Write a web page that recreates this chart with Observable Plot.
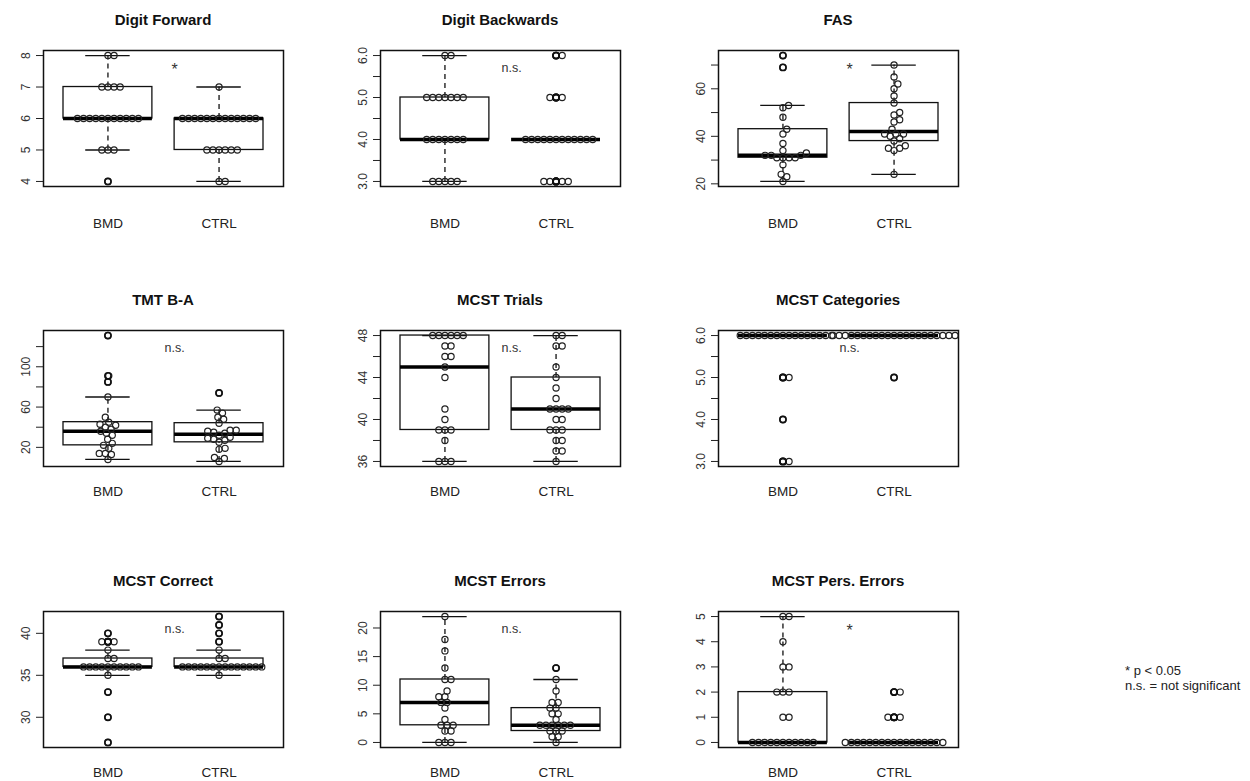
<!DOCTYPE html>
<html>
<head>
<meta charset="utf-8">
<script src="https://cdn.jsdelivr.net/npm/d3@7"></script>
<script src="https://cdn.jsdelivr.net/npm/@observablehq/plot@0.6"></script>
<style>
  html, body { margin: 0; padding: 0; background: #fff; }
  #page { position: relative; width: 1250px; height: 781px; font-family: "Liberation Sans", Arial, Helvetica, sans-serif; color: #111; }
  .panel { position: absolute; }
  .title { position: absolute; transform: translate(-50%, -50%); font-weight: bold; font-size: 15px; white-space: nowrap; color: #111; }
  .note { position: absolute; left: 1125px; top: 663px; font-size: 13px; line-height: 15px; color: #222; white-space: nowrap; }
</style>
</head>
<body>
<div id="page">
  <div class="note">* p &lt; 0.05<br>n.s. = not significant</div>
</div>
<script>
// Groups compared in every panel
const groups = ["BMD", "CTRL"];

// Panel titles, in reading order
const titles = ["Digit Forward", "Digit Backwards", "FAS", "TMT B-A", "MCST Trials",
  "MCST Categories", "MCST Correct", "MCST Errors", "MCST Pers. Errors"];

// Significance of the group difference in each panel
const significance = ["*", "n.s.", "*", "n.s.", "n.s.", "n.s.", "n.s.", "n.s.", "*"];

// Individual scores, one array per test and group
const digitForwardBMD = [8, 8, 7, 7, 7, 7, 6, 6, 6, 6, 6, 6, 6, 6, 6, 6, 6, 5, 5, 5, 4];
const digitForwardCTRL = [7, 6, 6, 6, 6, 6, 6, 6, 6, 6, 6, 6, 6, 6, 5, 5, 5, 5, 5, 5, 4, 4];
const digitBackwardsBMD = [6, 6, 5, 5, 5, 5, 5, 5, 5, 4, 4, 4, 4, 4, 4, 4, 3, 3, 3, 3, 3];
const digitBackwardsCTRL = [6, 6, 5, 5, 5, 4, 4, 4, 4, 4, 4, 4, 4, 4, 4, 4, 4, 3, 3, 3, 3, 3];
const fasBMD = [74, 69, 53, 52, 48, 43, 41, 37, 34, 33, 32, 32, 32, 31, 31, 31, 31, 28, 24, 23, 21];
const fasCTRL = [70, 65, 62, 60, 57, 54, 50, 49, 47, 46, 43, 41, 41, 41, 40, 39, 38, 36, 35, 35, 34, 24];
const tmtBMD = [131, 91, 85, 70, 50, 45, 43, 42, 40, 38, 36, 34, 32, 28, 24, 22, 19, 14, 14, 13, 8];
const tmtCTRL = [74, 57, 54, 50, 48, 44, 37, 37, 36, 35, 34, 32, 30, 29, 28, 27, 25, 19, 18, 10, 9, 6];
const trialsBMD = [48, 48, 48, 48, 48, 48, 47, 47, 46, 46, 45, 44, 41, 40, 39, 39, 39, 38, 36, 36, 36];
const trialsCTRL = [48, 48, 47, 47, 45, 44, 43, 42, 41, 41, 41, 41, 40, 40, 39, 39, 39, 38, 38, 37, 37, 36];
const categoriesBMD = [6, 6, 6, 6, 6, 6, 6, 6, 6, 6, 6, 6, 6, 6, 6, 6, 5, 5, 4, 3, 3];
const categoriesCTRL = [6, 6, 6, 6, 6, 6, 6, 6, 6, 6, 6, 6, 6, 6, 6, 6, 6, 6, 6, 6, 6, 5];
const correctBMD = [40, 39, 39, 39, 38, 37, 37, 36, 36, 36, 36, 36, 36, 36, 36, 36, 36, 35, 33, 30, 27];
const correctCTRL = [42, 41, 40, 39, 38, 37, 37, 36, 36, 36, 36, 36, 36, 36, 36, 36, 36, 36, 36, 36, 36, 35];
const errorsBMD = [22, 18, 16, 13, 11, 11, 9, 8, 8, 7, 7, 6, 4, 3, 3, 3, 2, 2, 0, 0, 0];
const errorsCTRL = [13, 11, 9, 7, 7, 6, 6, 5, 5, 4, 3, 3, 3, 3, 3, 3, 2, 2, 2, 1, 1, 0];
const persBMD = [5, 5, 4, 3, 3, 2, 2, 2, 1, 1, 0, 0, 0, 0, 0, 0, 0, 0, 0, 0, 0];
const persCTRL = [2, 2, 1, 1, 1, 0, 0, 0, 0, 0, 0, 0, 0, 0, 0, 0, 0, 0, 0, 0, 0, 0];

// Y-axis ticks and their printed labels (blank = unlabelled tick)
const yTicks = [
  [4, 5, 6, 7, 8],
  [3, 3.5, 4, 4.5, 5, 5.5, 6],
  [20, 30, 40, 50, 60, 70],
  [20, 40, 60, 80, 100, 120],
  [36, 38, 40, 42, 44, 46, 48],
  [3, 3.5, 4, 4.5, 5, 5.5, 6],
  [30, 35, 40],
  [0, 5, 10, 15, 20],
  [0, 1, 2, 3, 4, 5]
];
const yTickLabels = [
  ["4", "5", "6", "7", "8"],
  ["3.0", "", "4.0", "", "5.0", "", "6.0"],
  ["20", "", "40", "", "60", ""],
  ["20", "", "60", "", "100", ""],
  ["36", "", "40", "", "44", "", "48"],
  ["3.0", "", "4.0", "", "5.0", "", "6.0"],
  ["30", "35", "40"],
  ["0", "5", "10", "15", "20"],
  ["0", "1", "2", "3", "4", "5"]
];

const series = [
  [digitForwardBMD, digitForwardCTRL],
  [digitBackwardsBMD, digitBackwardsCTRL],
  [fasBMD, fasCTRL],
  [tmtBMD, tmtCTRL],
  [trialsBMD, trialsCTRL],
  [categoriesBMD, categoriesCTRL],
  [correctBMD, correctCTRL],
  [errorsBMD, errorsCTRL],
  [persBMD, persCTRL]
];

// Panel geometry
const FRAME_W = 240, FRAME_H = 136;
const M = {left: 43, right: 12, top: 50, bottom: 45};
const colLeft = [0, 337, 675];
const rowTop = [0, 280, 561];
const labelPad = [32, 19.5, 19.5];
const xDomain = [0.42, 2.58];           // positions 1 and 2, padded like base R
const pxPerX = FRAME_W / (xDomain[1] - xDomain[0]);
const DOT = 6.1;                         // centre-to-centre spacing of the swarm
const R = 3.1;

// Tukey five-number summary and whisker limits (boxplot.stats, coef 1.5)
function boxStats(values) {
  const x = values.slice().sort((a, b) => a - b);
  const n = x.length;
  const n4 = Math.floor((n + 3) / 2) / 2;
  const at = d => (x[Math.floor(d) - 1] + x[Math.ceil(d) - 1]) / 2;
  const q1 = at(n4), med = at((n + 1) / 2), q3 = at(n + 1 - n4);
  const iqr = q3 - q1;
  const isOut = v => v < q1 - 1.5 * iqr || v > q3 + 1.5 * iqr;
  const inside = x.filter(v => !isOut(v));
  return {q1, med, q3, lo: d3.min(inside), hi: d3.max(inside), out: x.filter(isOut)};
}

// Swarm layout: each point takes the free horizontal slot closest to the centre
function swarm(values, toPx) {
  const order = d3.range(values.length).sort((a, b) => values[a] - values[b]);
  const placed = [];
  const offsets = new Array(values.length);
  for (const i of order) {
    const y = toPx(values[i]);
    const cands = [0];
    for (const p of placed) {
      const dy = Math.abs(p.y - y);
      if (dy < DOT) {
        const dx = Math.sqrt(DOT * DOT - dy * dy);
        cands.push(p.x + dx, p.x - dx);
      }
    }
    let best = null;
    for (const c of cands) {
      const ok = placed.every(p => (p.x - c) ** 2 + (p.y - y) ** 2 >= DOT * DOT - 1e-6);
      if (ok && (best === null || Math.abs(c) < Math.abs(best) - 1e-9)) best = c;
    }
    placed.push({x: best, y});
    offsets[i] = best;
  }
  return offsets;
}

const page = document.getElementById("page");

series.forEach((pair, k) => {
  const row = Math.floor(k / 3), col = k % 3;
  const all = pair.flat();
  const [mn, mx] = d3.extent(all);
  const pad = 0.04 * (mx - mn);
  const yDomain = [mn - pad, mx + pad];
  const toPx = v => (v - yDomain[0]) / (yDomain[1] - yDomain[0]) * FRAME_H;

  const stats = pair.map((vals, g) => ({pos: g + 1, ...boxStats(vals)}));
  const points = pair.flatMap((vals, g) => {
    const off = swarm(vals, toPx);
    return vals.map((v, i) => ({x: g + 1 + off[i] / pxPerX, y: v}));
  });
  const outliers = stats.flatMap(s => s.out.map(v => ({x: s.pos, y: v})));
  const whiskers = stats.flatMap(s => [
    {x: s.pos, y1: s.q3, y2: s.hi},
    {x: s.pos, y1: s.lo, y2: s.q1}
  ]);
  const staples = stats.flatMap(s => [
    {x1: s.pos - 0.2, x2: s.pos + 0.2, y: s.hi},
    {x1: s.pos - 0.2, x2: s.pos + 0.2, y: s.lo}
  ]);
  const span = yDomain[1] - yDomain[0];
  const mark = significance[k];
  const note = [{x: 1.6, y: yDomain[1] - (mark === "*" ? 0.14 : 0.13) * span, text: mark}];

  const chart = Plot.plot({
    width: M.left + FRAME_W + M.right,
    height: M.top + FRAME_H + M.bottom,
    marginLeft: M.left, marginRight: M.right, marginTop: M.top, marginBottom: M.bottom,
    x: {domain: xDomain, axis: null},
    y: {domain: yDomain, axis: null},
    style: {fontFamily: '"Liberation Sans", Arial, Helvetica, sans-serif', background: "white", color: "#222", overflow: "visible"},
    marks: [
      Plot.ruleX(whiskers, {x: "x", y1: "y1", y2: "y2", stroke: "#111", strokeWidth: 1.3, strokeDasharray: "5,4"}),
      Plot.ruleY(staples, {x1: "x1", x2: "x2", y: "y", stroke: "#111", strokeWidth: 1.3}),
      Plot.rect(stats, {x1: d => d.pos - 0.4, x2: d => d.pos + 0.4, y1: "q1", y2: "q3", stroke: "#111", strokeWidth: 1.3, fill: "none"}),
      Plot.ruleY(stats, {x1: d => d.pos - 0.4, x2: d => d.pos + 0.4, y: "med", stroke: "#000", strokeWidth: 3.5}),
      Plot.dot(points, {x: "x", y: "y", r: R, stroke: "#222", strokeWidth: 1.2, fill: "none", clip: true}),
      Plot.dot(outliers, {x: "x", y: "y", r: R, stroke: "#111", strokeWidth: 1.6, fill: "none", clip: true}),
      Plot.text(note, {x: "x", y: "y", text: "text", fontSize: mark === "*" ? 16 : 12.5, fill: "#333"}),
      Plot.frame({stroke: "#111", strokeWidth: 1.5}),
      Plot.axisY(yTicks[k], {
        tickSize: 7, tickPadding: 7, tickRotate: -90, stroke: "#222", fill: "#333", fontSize: 12,
        tickFormat: t => yTickLabels[k][yTicks[k].indexOf(t)]
      }),
      Plot.axisX([1, 2], {
        tickSize: 0, tickPadding: labelPad[row], fontSize: 13.5, fill: "#222",
        tickFormat: p => groups[p - 1]
      })
    ]
  });

  const holder = document.createElement("div");
  holder.className = "panel";
  holder.style.left = colLeft[col] + "px";
  holder.style.top = rowTop[row] + "px";
  holder.appendChild(chart);
  page.appendChild(holder);

  const title = document.createElement("div");
  title.className = "title";
  title.textContent = titles[k];
  title.style.left = (colLeft[col] + M.left + FRAME_W / 2) + "px";
  title.style.top = (rowTop[row] + 19) + "px";
  page.appendChild(title);
});
</script>
</body>
</html>
